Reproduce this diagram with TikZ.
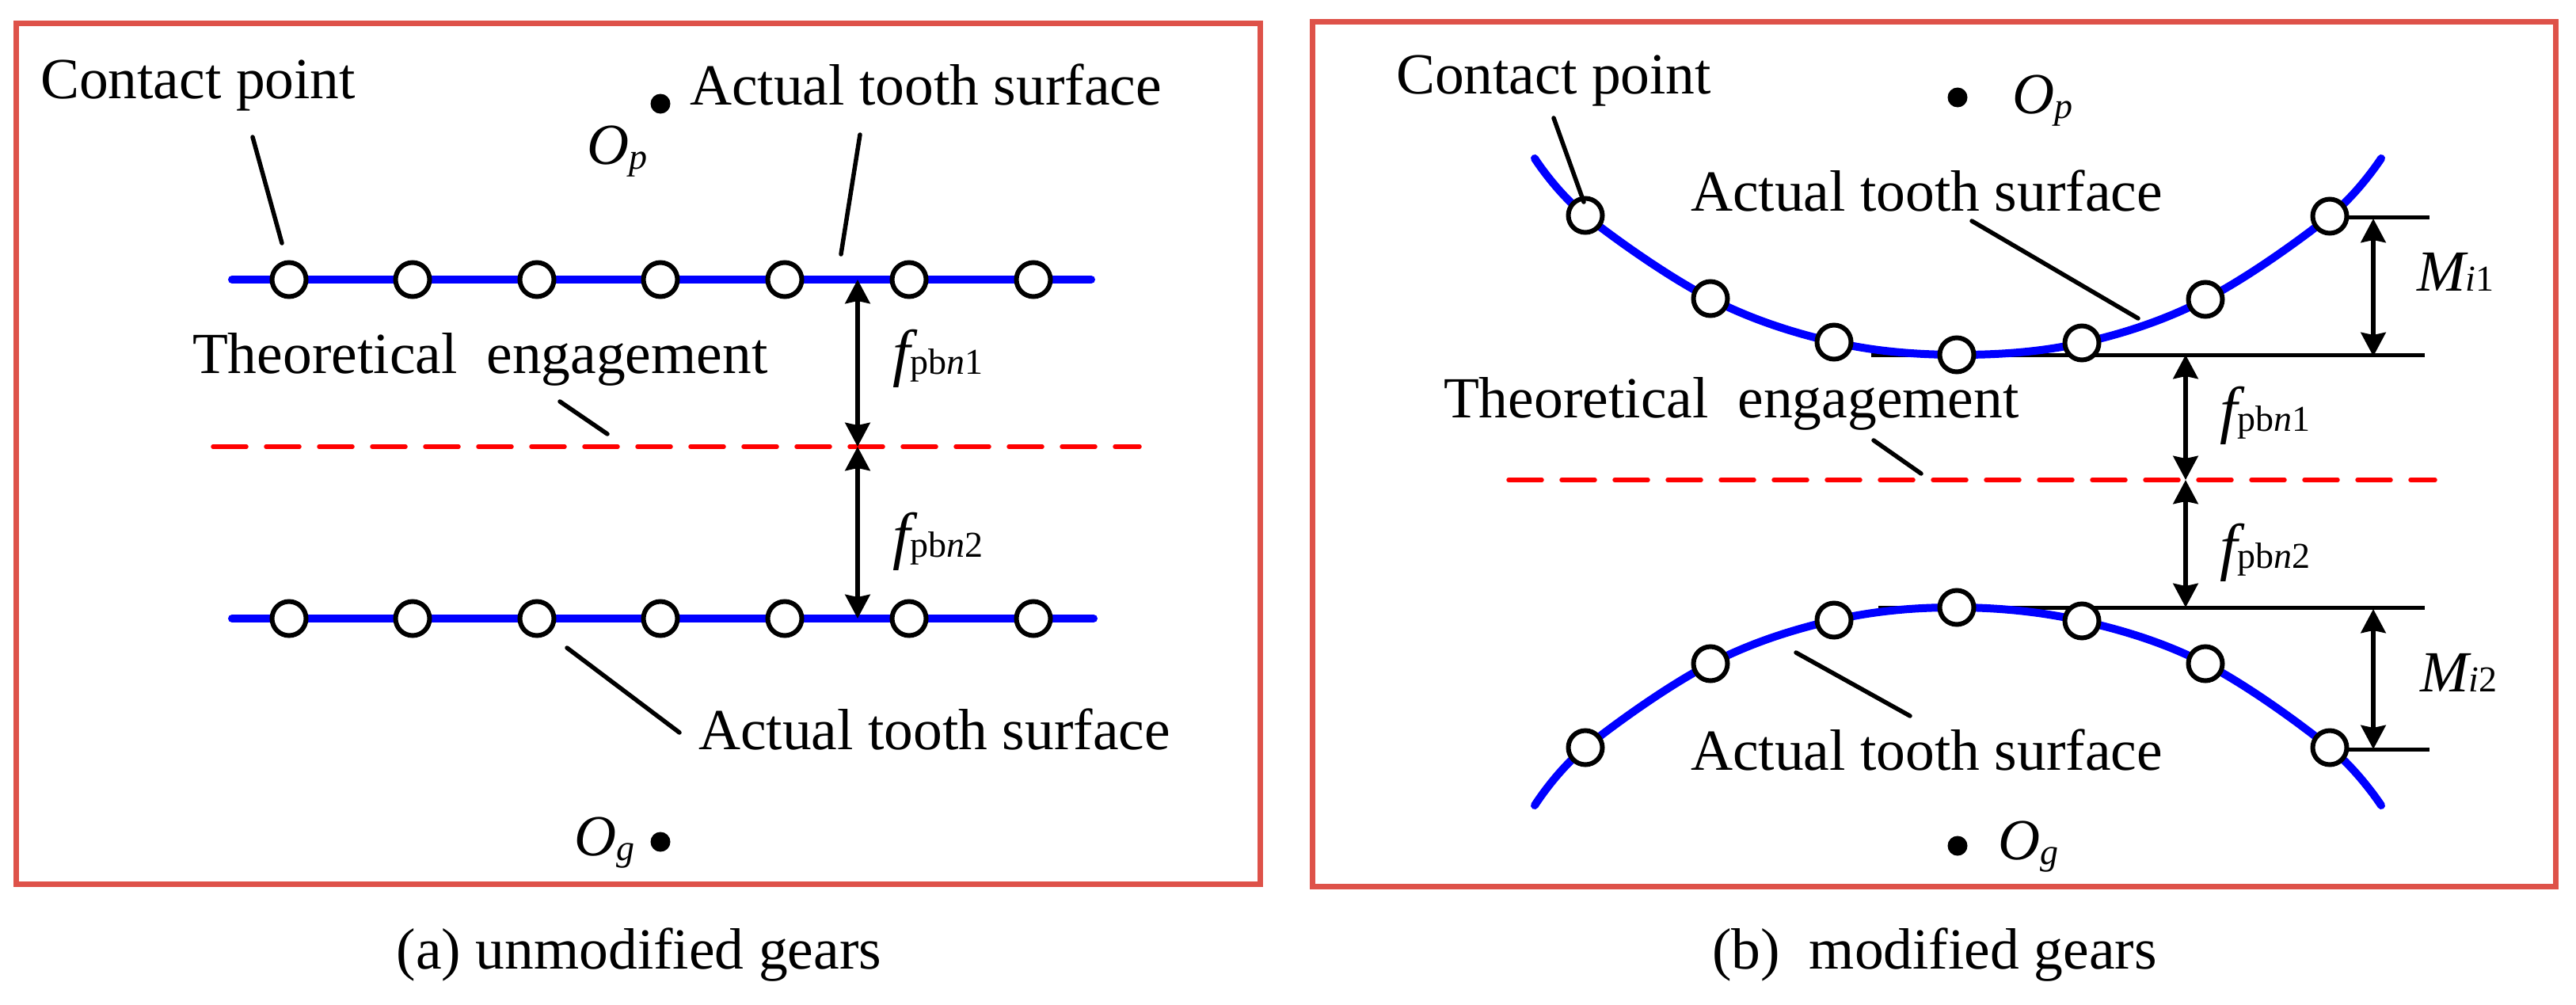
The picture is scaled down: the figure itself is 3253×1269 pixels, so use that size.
\documentclass[tikz,border=0pt]{standalone}
\usepackage{fontspec}
\setmainfont{Liberation Serif}
\usetikzlibrary{arrows.meta}
\newcommand{\bigtxt}{\fontsize{73.5}{84}\selectfont}
\newcommand{\subtxt}{\fontsize{46}{50}\selectfont}
\newcommand{\fpb}[1]{{\fontsize{80}{84}\selectfont\itshape f}{\subtxt pb\itshape n\upshape #1}}
\tikzset{
  frame/.style={draw=framered,line width=7pt},
  surface/.style={draw=blue,line width=10pt,line cap=round},
  theory/.style={draw=red,line width=5.5pt,dash pattern=on 42pt off 25pt,line cap=round},
  cpoint/.style={circle,draw=black,fill=white,line width=6pt,minimum size=43pt,inner sep=0pt},
  centre/.style={circle,fill=black,minimum size=25pt,inner sep=0pt},
  leader/.style={draw=black,line width=5.5pt,line cap=round},
  refline/.style={draw=black,line width=5pt},
  dimarrow/.style={draw=black,line width=6pt,{Stealth[length=30pt,width=31pt,inset=3pt]}-{Stealth[length=30pt,width=31pt,inset=3pt]}},
  lab/.style={anchor=base west,inner sep=0pt,outer sep=0pt,font=\bigtxt},
  captext/.style={anchor=base,inner sep=0pt,outer sep=0pt,font=\bigtxt}
}
\definecolor{framered}{HTML}{DE5249}
\begin{document}
\begin{tikzpicture}[x=1pt,y=-1pt]
\useasboundingbox (0,0) rectangle (3253,1269);
% ---------- panel (a)
\draw[frame] (20.5,29) rectangle (1591,1116.5);
\coordinate (aT1) at (293,353); \coordinate (aT2) at (1378,353);
\coordinate (aB1) at (293,781); \coordinate (aB2) at (1381,781);
\coordinate (aR1) at (269,564); \coordinate (aR2) at (1439,564);
\coordinate (aDT) at (1083,353); \coordinate (aDM) at (1083,564); \coordinate (aDB) at (1083,781);
\draw[surface] (aT1) -- (aT2);
\draw[surface] (aB1) -- (aB2);
\draw[theory] (aR1) -- (aR2);
\foreach \n/\x in {1/365,2/521,3/678,4/834,5/991,6/1148,7/1305}{
  \node[cpoint] (at\n) at (\x,353) {};
  \node[cpoint] (ab\n) at (\x,781) {};
}
\draw[dimarrow] (aDM) -- (aDT);
\draw[dimarrow] (aDM) -- (aDB);
\node[centre] (aOp) at (834,131) {};
\node[centre] (aOg) at (834,1063) {};
\node[lab] (aContact) at (51,124) {Contact point};
\node[lab] (aActT) at (871,132) {Actual tooth surface};
\node[lab] (aOpT) at (741,207) {\itshape O{\subtxt\raisebox{-6pt}{p}}};
\node[lab] (aTheo) at (243,471) {Theoretical\ \ engagement};
\node[lab] (aF1) at (1127,472) {\fpb{1}};
\node[lab] (aF2) at (1127,703) {\fpb{2}};
\node[lab] (aActB) at (882,946) {Actual tooth surface};
\node[lab] (aOgT) at (725,1080) {\itshape O{\subtxt\raisebox{-6pt}{g}}};
\node[captext] (aCap) at (807,1223) {(a) unmodified gears};
\coordinate (l1a) at (319,173); \coordinate (l1b) at (356,307);
\coordinate (l2a) at (1086,170); \coordinate (l2b) at (1062,321);
\coordinate (l3a) at (707,507); \coordinate (l3b) at (767,548);
\coordinate (l4a) at (716,818); \coordinate (l4b) at (858,925);
\draw[leader] (l1a) -- (l1b);
\draw[leader] (l2a) -- (l2b);
\draw[leader] (l3a) -- (l3b);
\draw[leader] (l4a) -- (l4b);
% ---------- panel (b)
\draw[frame] (1657,27.5) rectangle (3227,1119);
\draw[refline] (2363,448) -- (3062,448);
\draw[refline] (2372,767) -- (3062,767);
\draw[refline] (2962,274) -- (3068,274);
\draw[refline] (2962,946) -- (3068,946);
\draw[surface] plot[smooth,tension=0.6] coordinates {(1938,200) (2002,272) (2160,377) (2316,432) (2471,448) (2629,433) (2785,378) (2942,273) (3007,200)};
\draw[surface] plot[smooth,tension=0.6] coordinates {(1938,1017) (2002,944) (2160,838) (2316,783) (2471,767) (2629,784) (2785,838) (2942,944) (3007,1017)};
\coordinate (bR1) at (1905,606); \coordinate (bR2) at (3075,606);
\draw[theory] (bR1) -- (bR2);
\foreach \n/\x/\yt/\yb in {1/2002/272/944,2/2160/377/838,3/2316/432/783,4/2471/448/767,5/2629/433/784,6/2785/378/838,7/2942/273/944}{
  \node[cpoint] (bt\n) at (\x,\yt) {};
  \node[cpoint] (bb\n) at (\x,\yb) {};
}
\coordinate (bDT) at (2760,448); \coordinate (bDM) at (2760,606); \coordinate (bDB) at (2760,767);
\draw[dimarrow] (bDM) -- (bDT);
\draw[dimarrow] (bDM) -- (bDB);
\coordinate (bMa) at (2997,276); \coordinate (bMb) at (2997,450);
\coordinate (bMc) at (2997,769); \coordinate (bMd) at (2997,946);
\draw[dimarrow] (bMa) -- (bMb);
\draw[dimarrow] (bMc) -- (bMd);
\node[centre] (bOp) at (2472,123) {};
\node[centre] (bOg) at (2472,1068) {};
\node[lab] (bContact) at (1763,118) {Contact point};
\node[lab] (bOpT) at (2541,143) {\itshape O{\subtxt\raisebox{-6pt}{p}}};
\node[lab] (bOgT) at (2523,1085) {\itshape O{\subtxt\raisebox{-6pt}{g}}};
\node[lab] (bActT) at (2135,266) {Actual tooth surface};
\node[lab] (bTheo) at (1823,527) {Theoretical\ \ engagement};
\node[lab] (bF1) at (2803,544) {\fpb{1}};
\node[lab] (bF2) at (2803,717) {\fpb{2}};
\node[lab] (bM1) at (3052,367) {\itshape M{\subtxt i\upshape 1}};
\node[lab] (bM2) at (3056,873) {\itshape M{\subtxt i\upshape 2}};
\node[lab] (bActB) at (2135,972) {Actual tooth surface};
\node[captext] (bCap) at (2443,1223) {(b)\ \ modified gears};
\coordinate (m1a) at (1962,149); \coordinate (m1b) at (2000,255);
\coordinate (m2a) at (2490,279); \coordinate (m2b) at (2700,402);
\coordinate (m3a) at (2366,556); \coordinate (m3b) at (2426,598);
\coordinate (m4a) at (2268,824); \coordinate (m4b) at (2412,904);
\draw[leader] (m1a) -- (m1b);
\draw[leader] (m2a) -- (m2b);
\draw[leader] (m3a) -- (m3b);
\draw[leader] (m4a) -- (m4b);
\end{tikzpicture}
\end{document}
